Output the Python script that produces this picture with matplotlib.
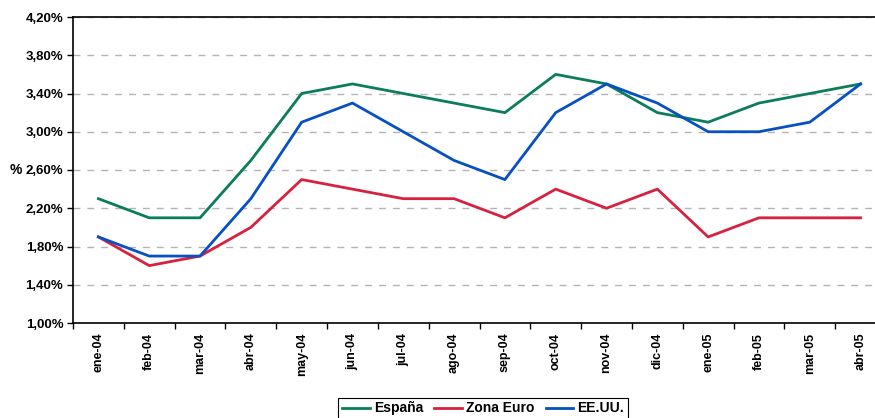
import matplotlib
matplotlib.use("Agg")
import matplotlib.pyplot as plt
from matplotlib.ticker import FuncFormatter

meses = ["ene-04", "feb-04", "mar-04", "abr-04", "may-04", "jun-04", "jul-04", "ago-04",
         "sep-04", "oct-04", "nov-04", "dic-04", "ene-05", "feb-05", "mar-05", "abr-05"]
espana = [2.3, 2.1, 2.1, 2.7, 3.4, 3.5, 3.4, 3.3, 3.2, 3.6, 3.5, 3.2, 3.1, 3.3, 3.4, 3.5]
zona_euro = [1.9, 1.6, 1.7, 2.0, 2.5, 2.4, 2.3, 2.3, 2.1, 2.4, 2.2, 2.4, 1.9, 2.1, 2.1, 2.1]
eeuu = [1.9, 1.7, 1.7, 2.3, 3.1, 3.3, 3.0, 2.7, 2.5, 3.2, 3.5, 3.3, 3.0, 3.0, 3.1, 3.5]
y_ticks = [1.0, 1.4, 1.8, 2.2, 2.6, 3.0, 3.4, 3.8, 4.2]

plt.rcParams["font.family"] = ["Liberation Sans", "DejaVu Sans"]

fig = plt.figure(figsize=(8.75, 4.18), dpi=100)
ax = fig.add_axes([73 / 875, 95 / 418, 813 / 875, 306 / 418])

x = range(len(meses))
ax.plot(x, espana, color="#0b7d5c", linewidth=2, label="España")
ax.plot(x, zona_euro, color="#d8203f", linewidth=2, label="Zona Euro")
ax.plot(x, eeuu, color="#0750c4", linewidth=2, label="EE.UU.")

ax.set_xlim(-0.5, len(meses) - 0.5)
ax.set_ylim(1.0, 4.2)
ax.set_yticks(y_ticks)
ax.yaxis.set_major_formatter(FuncFormatter(lambda v, p: f"{v:.2f}%".replace(".", ",")))
ax.grid(axis="y", color="#b4b4b4", linestyle=(0, (5, 5)), linewidth=1)
ax.set_axisbelow(True)

# categorías centradas, marcas entre categorías
ax.set_xticks(list(x))
ax.set_xticklabels(meses, rotation=90, fontsize=9, fontweight="bold")
ax.set_xticks([i + 0.5 for i in range(-1, len(meses))], minor=True)
ax.tick_params(axis="x", which="major", length=0, pad=7)
ax.tick_params(axis="x", which="minor", length=4, width=1, direction="out")
ax.tick_params(axis="y", length=4, width=1, direction="out", pad=3)
for lbl in ax.get_yticklabels():
    lbl.set_fontsize(9.5)
    lbl.set_fontweight("bold")

for s in ["left", "bottom", "top"]:
    ax.spines[s].set_linewidth(1.2)
    ax.spines[s].set_color("black")
ax.spines["right"].set_visible(False)

fig.text(10 / 875, 1 - 170 / 418, "%", fontsize=10, fontweight="bold", va="center")

leg = fig.legend(loc="upper center", bbox_to_anchor=(483 / 875, 1 - 398 / 418), ncol=3,
                 frameon=True, fancybox=False, edgecolor="black", framealpha=1,
                 prop={"weight": "bold", "size": 10}, handlelength=2.0, handletextpad=0.3,
                 columnspacing=0.8, borderpad=0.25, borderaxespad=0)
leg.get_frame().set_linewidth(0.8)

fig.savefig("out.png", dpi=100)
